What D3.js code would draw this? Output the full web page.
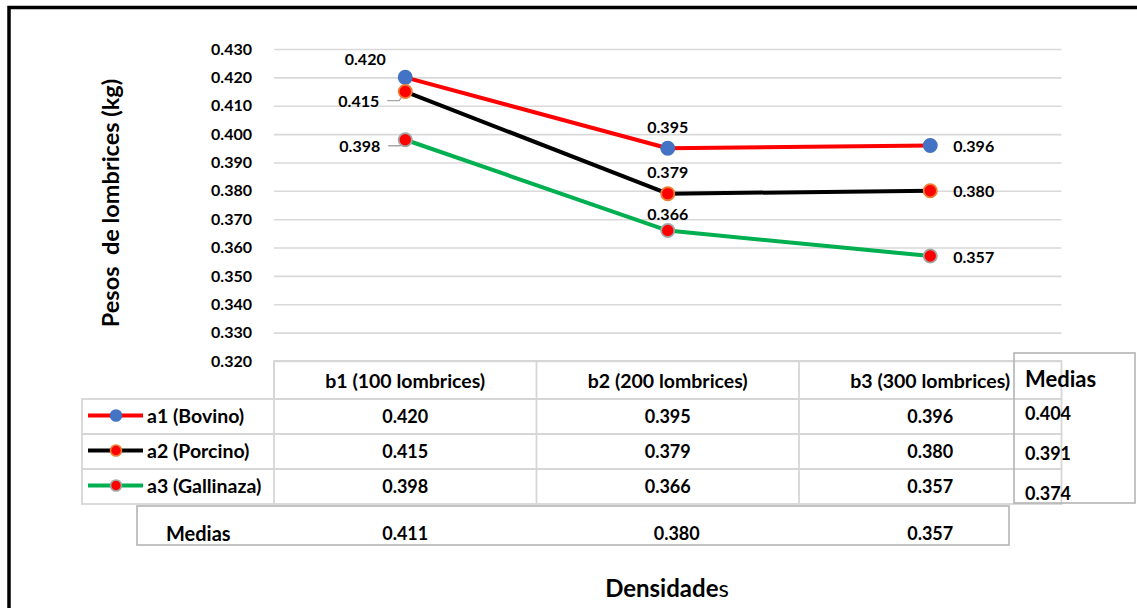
<!DOCTYPE html>
<html>
<head>
<meta charset="utf-8">
<script src="https://cdn.jsdelivr.net/npm/d3@7"></script>
<style>
  html, body { margin: 0; padding: 0; background: #fff; }
  svg { display: block; }
  text { font-family: Lato, "Open Sans", sans-serif; fill: #000; white-space: pre; }
</style>
</head>
<body>
<svg id="chart" width="1137" height="608"></svg>
<script>
// Densidades (columns) and abono treatments (series)
const categories = ["b1 (100 lombrices)", "b2 (200 lombrices)", "b3 (300 lombrices)"];
const seriesNames = ["a1 (Bovino)", "a2 (Porcino)", "a3 (Gallinaza)"];
const bovino = [0.420, 0.395, 0.396];
const porcino = [0.415, 0.379, 0.380];
const gallinaza = [0.398, 0.366, 0.357];
const rowMeans = [0.404, 0.391, 0.374];
const colMeans = [0.411, 0.380, 0.357];
const yTicks = [0.320, 0.330, 0.340, 0.350, 0.360, 0.370, 0.380, 0.390, 0.400, 0.410, 0.420, 0.430];

const seriesValues = [bovino, porcino, gallinaza];
const seriesStyle = [
  { line: "#ff0000", fill: "#4472c4", stroke: "#4472c4" },
  { line: "#000000", fill: "#ff0000", stroke: "#ed7d31" },
  { line: "#00b050", fill: "#ff0000", stroke: "#a5a5a5" }
];
// label placement per series / point: [dx, dy, anchor, leader]
const labelPlace = [
  [[-40, -19, "middle", false], [0, -22, "middle", false], [23, 0, "start", false]],
  [[-26, 9, "end", true], [0, -22, "middle", false], [23, 0, "start", false]],
  [[-25, 6, "end", true], [0, -17, "middle", false], [23, 0, "start", false]]
];

const svg = d3.select("#chart");
const fmt = d3.format(".3f");

const x = d3.scaleBand().domain(categories).range([274, 1061.5]);
const y = d3.scaleLinear().domain([0.32, 0.43]).range([361, 49]);

// outer frame
svg.append("rect")
  .attr("x", 9).attr("y", 7.5).attr("width", 1150).attr("height", 620)
  .attr("fill", "none").attr("stroke", "#000").attr("stroke-width", 3.5);

// horizontal gridlines
svg.append("g")
  .attr("transform", "translate(274,0)")
  .call(d3.axisRight(y).tickValues(yTicks).tickSize(787.5).tickFormat(""))
  .call(g => g.select(".domain").remove())
  .call(g => g.selectAll(".tick line").attr("stroke", "#d9d9d9").attr("stroke-width", 1.6));

// y tick labels
svg.append("g")
  .attr("transform", "translate(274,0)")
  .call(d3.axisLeft(y).tickValues(yTicks).tickSize(0).tickPadding(22).tickFormat(fmt))
  .call(g => g.select(".domain").remove())
  .call(g => g.selectAll(".tick text")
    .attr("font-family", "Lato").attr("font-weight", "bold").attr("font-size", 16).attr("fill", "#000"));

// y axis title
svg.append("text")
  .attr("transform", "translate(110,203) rotate(-90)")
  .attr("text-anchor", "middle").attr("dominant-baseline", "central")
  .attr("font-weight", "bold").attr("font-size", 23.5)
  .text("Pesos  de lombrices (kg)");

// series lines
const line = d3.line()
  .x((d, i) => x(categories[i]) + x.bandwidth() / 2)
  .y(d => y(d));

seriesValues.forEach((vals, s) => {
  svg.append("path")
    .datum(vals)
    .attr("d", line)
    .attr("fill", "none")
    .attr("stroke", seriesStyle[s].line)
    .attr("stroke-width", 4)
    .attr("stroke-linejoin", "round");
});

// leader lines for labels placed away from their point
seriesValues.forEach((vals, s) => {
  vals.forEach((v, i) => {
    const cx = x(categories[i]) + x.bandwidth() / 2;
    const cy = y(v);
    const [dx, dy, anchor, leader] = labelPlace[s][i];
    if (leader) {
      const lx = cx + dx + 8, ly = cy + dy;
      svg.append("path")
        .attr("d", `M${lx},${ly}H${lx + 12}L${cx},${cy}`)
        .attr("fill", "none").attr("stroke", "#a6a6a6").attr("stroke-width", 1.3);
    }
  });
});

// markers and value labels
seriesValues.forEach((vals, s) => {
  vals.forEach((v, i) => {
    const cx = x(categories[i]) + x.bandwidth() / 2;
    const cy = y(v);
    svg.append("circle")
      .attr("cx", cx).attr("cy", cy).attr("r", 6.6)
      .attr("fill", seriesStyle[s].fill)
      .attr("stroke", seriesStyle[s].stroke).attr("stroke-width", 1.8);
    const [dx, dy, anchor] = labelPlace[s][i];
    svg.append("text")
      .attr("x", cx + dx).attr("y", cy + dy)
      .attr("text-anchor", anchor).attr("dominant-baseline", "central")
      .attr("font-weight", "bold").attr("font-size", 16)
      .text(fmt(v));
  });
});

// data table
const gridCol = "#d6d6d6";
const tbl = svg.append("g");
const rowTop = [399, 434, 469];
const rowH = 35;
const xLeft = 82, xStart = x.range()[0], xEnd = x.range()[1];

// header row
tbl.append("path")
  .attr("d", `M${xStart},361H${xEnd}V399H${xStart}Z`)
  .attr("fill", "none").attr("stroke", gridCol).attr("stroke-width", 1.8);
// body rows
rowTop.forEach(t => {
  tbl.append("rect")
    .attr("x", xLeft).attr("y", t).attr("width", xEnd - xLeft).attr("height", rowH)
    .attr("fill", "none").attr("stroke", gridCol).attr("stroke-width", 1.8);
});
// column separators
categories.forEach(c => {
  tbl.append("line")
    .attr("x1", x(c)).attr("x2", x(c)).attr("y1", 361).attr("y2", 504)
    .attr("stroke", gridCol).attr("stroke-width", 1.8);
});

// header text
categories.forEach(c => {
  tbl.append("text")
    .attr("x", x(c) + x.bandwidth() / 2).attr("y", 380)
    .attr("text-anchor", "middle").attr("dominant-baseline", "central")
    .attr("font-weight", "bold").attr("font-size", 19.5)
    .text(c);
});

// body cells with legend keys
seriesValues.forEach((vals, s) => {
  const cy = rowTop[s] + rowH / 2 - 1;
  tbl.append("line")
    .attr("x1", 88).attr("x2", 143).attr("y1", cy).attr("y2", cy)
    .attr("stroke", seriesStyle[s].line).attr("stroke-width", 4);
  tbl.append("circle")
    .attr("cx", 116).attr("cy", cy).attr("r", 5.5)
    .attr("fill", seriesStyle[s].fill)
    .attr("stroke", seriesStyle[s].stroke).attr("stroke-width", 1.6);
  tbl.append("text")
    .attr("x", 147).attr("y", cy)
    .attr("dominant-baseline", "central")
    .attr("font-weight", "bold").attr("font-size", 19.5)
    .text(seriesNames[s]);
  vals.forEach((v, i) => {
    tbl.append("text")
      .attr("x", x(categories[i]) + x.bandwidth() / 2).attr("y", cy)
      .attr("text-anchor", "middle").attr("dominant-baseline", "central")
      .attr("font-weight", "bold").attr("font-size", 18)
      .text(fmt(v));
  });
});

// row means box
const boxCol = "#b4b4b4";
tbl.append("rect")
  .attr("x", 1014).attr("y", 353).attr("width", 121).attr("height", 150)
  .attr("fill", "none").attr("stroke", boxCol).attr("stroke-width", 1.6);
tbl.append("text")
  .attr("x", 1025).attr("y", 378)
  .attr("dominant-baseline", "central")
  .attr("font-weight", "bold").attr("font-size", 22)
  .text("Medias");
const rowMeanY = [413, 453, 493];
rowMeans.forEach((m, s) => {
  tbl.append("text")
    .attr("x", 1025).attr("y", rowMeanY[s])
    .attr("dominant-baseline", "central")
    .attr("font-weight", "bold").attr("font-size", 18)
    .text(fmt(m));
});

// column means box
tbl.append("rect")
  .attr("x", 137).attr("y", 506).attr("width", 872).attr("height", 39)
  .attr("fill", "none").attr("stroke", boxCol).attr("stroke-width", 1.6);
tbl.append("text")
  .attr("x", 166).attr("y", 533)
  .attr("dominant-baseline", "central")
  .attr("font-weight", "bold").attr("font-size", 20)
  .text("Medias");
const colMeanShift = [0, 9, 0];
colMeans.forEach((m, i) => {
  tbl.append("text")
    .attr("x", x(categories[i]) + x.bandwidth() / 2 + colMeanShift[i]).attr("y", 533)
    .attr("text-anchor", "middle").attr("dominant-baseline", "central")
    .attr("font-weight", "bold").attr("font-size", 18)
    .text(fmt(m));
});

// x axis title
const xt = svg.append("text")
  .attr("x", 667).attr("y", 587)
  .attr("text-anchor", "middle").attr("dominant-baseline", "central")
  .attr("font-size", 24);
xt.append("tspan").attr("font-weight", "bold").text("Densidade");
xt.append("tspan").text("s");
</script>
</body>
</html>
